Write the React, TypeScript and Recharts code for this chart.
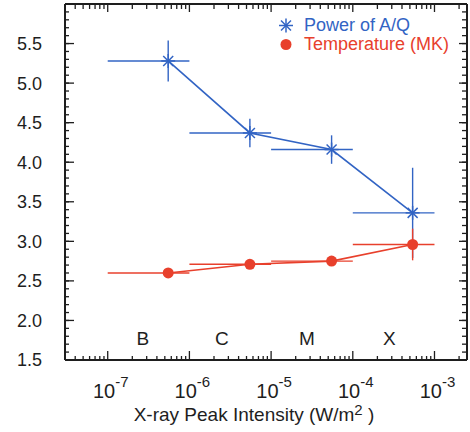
import React from 'react';
import { ScatterChart, Scatter, XAxis, YAxis, ErrorBar, ReferenceDot, Legend } from 'recharts';

const FONT = '"Liberation Sans", Arial, sans-serif';
const BLUE = '#3264c4';
const RED = '#e8402c';
const INK = '#1e1e1e';

// GOES class bins
const classNames = ['B', 'C', 'M', 'X'];
const classLow = [1e-7, 1e-6, 1e-5, 1e-4];
const classHigh = [1e-6, 1e-5, 1e-4, 1e-3];
const classLabelX = [2.7e-7, 2.5e-6, 2.75e-5, 2.8e-4];
const classLabelY = 1.78;

// series
const peakFlux = [5.5e-7, 5.5e-6, 5.5e-5, 5.4e-4];
const powerAQ = [5.28, 4.37, 4.16, 3.36];
const powerErr = [0.26, 0.18, 0.18, 0.57];
const tempMK = [2.6, 2.71, 2.75, 2.96];
const tempErr = [0.04, 0.04, 0.04, 0.2];

// axes
const xDomain = [3e-8, 2.5e-3];
const xMajor = [1e-7, 1e-6, 1e-5, 1e-4, 1e-3];
const xExp = ['-7', '-6', '-5', '-4', '-3'];
const yDomain = [1.5, 6.0];
const yMajor = [1.5, 2.0, 2.5, 3.0, 3.5, 4.0, 4.5, 5.0, 5.5, 6.0];
const yLabels = [1.5, 2.0, 2.5, 3.0, 3.5, 4.0, 4.5, 5.0, 5.5];

const xMinor: number[] = [];
[1e-8, 1e-7, 1e-6, 1e-5, 1e-4, 1e-3].forEach((d) => {
  for (let m = 2; m <= 9; m++) {
    const v = m * d;
    if (v >= xDomain[0] && v <= xDomain[1]) xMinor.push(v);
  }
});
const yMinor: number[] = [];
for (let i = 15; i <= 60; i++) yMinor.push(i / 10);

const powerData = peakFlux.map((x, i) => ({
  x,
  y: powerAQ[i],
  xErr: [x - classLow[i], classHigh[i] - x],
  yErr: powerErr[i],
}));
const tempData = peakFlux.map((x, i) => ({
  x,
  y: tempMK[i],
  xErr: [x - classLow[i], classHigh[i] - x],
  yErr: tempErr[i],
}));

const Asterisk = (props: any) => {
  const { cx, cy } = props;
  const s = 7;
  const d = 5;
  return (
    <g stroke={BLUE} strokeWidth={1.5}>
      <line x1={cx - s} y1={cy} x2={cx + s} y2={cy} />
      <line x1={cx} y1={cy - s} x2={cx} y2={cy + s} />
      <line x1={cx - d} y1={cy - d} x2={cx + d} y2={cy + d} />
      <line x1={cx - d} y1={cy + d} x2={cx + d} y2={cy - d} />
    </g>
  );
};

const Dot = (props: any) => <circle cx={props.cx} cy={props.cy} r={5.5} fill={RED} />;
const Nothing = () => <g />;

const XTick = (props: any) => {
  const { x, y, payload } = props;
  const i = xMajor.indexOf(payload.value);
  return (
    <text x={x + 3} y={y + 26} textAnchor="middle" fontFamily={FONT} fill={INK}>
      <tspan fontSize={20}>10</tspan>
      <tspan fontSize={15} dy={-11}>{xExp[i]}</tspan>
    </text>
  );
};

const XLabel = () => (
  <text x={254} y={421} textAnchor="middle" fontFamily={FONT} fill={INK} fontSize={19}>
    X-ray Peak Intensity (W/m
    <tspan fontSize={15} dy={-6}>2</tspan>
    <tspan dy={6}> )</tspan>
  </text>
);

const LegendBox = () => (
  <div style={{ fontFamily: FONT, fontSize: 18, lineHeight: '19px' }}>
    <div style={{ display: 'flex', alignItems: 'center', color: BLUE, height: 19 }}>
      <svg width={20} height={19}>
        <Asterisk cx={8} cy={9.5} />
      </svg>
      <span style={{ marginLeft: 6 }}>Power of A/Q</span>
    </div>
    <div style={{ display: 'flex', alignItems: 'center', color: RED, height: 19 }}>
      <svg width={20} height={19}>
        <circle cx={8} cy={9.5} r={5.5} fill={RED} />
      </svg>
      <span style={{ marginLeft: 6 }}>Temperature (MK)</span>
    </div>
  </div>
);

const axisLine = { stroke: INK, strokeWidth: 2 };
const tickLine = { stroke: INK, strokeWidth: 1.3 };

// tick-only axes: mirrored so the ticks point inward and take no room
const tickAxis = {
  type: 'number' as const,
  allowDataOverflow: true,
  mirror: true,
  tick: <Nothing />,
  tickLine,
  interval: 0 as const,
};

export default function App() {
  return (
    <div style={{ position: 'absolute', left: 0, top: 0, background: '#fff' }}>
      <ScatterChart width={470} height={432} margin={{ top: 4, right: 3, bottom: 0, left: 0 }}>
        <XAxis
          xAxisId="x"
          dataKey="x"
          type="number"
          scale="log"
          domain={xDomain}
          allowDataOverflow
          ticks={xMajor}
          interval={0}
          tickSize={0}
          tickMargin={12}
          height={72}
          axisLine={axisLine}
          tickLine={false}
          tick={<XTick />}
          label={<XLabel />}
        />
        <XAxis {...tickAxis} xAxisId="xTick" dataKey="x" scale="log" domain={xDomain} ticks={xMajor} tickSize={8} height={1} axisLine={false} />
        <XAxis {...tickAxis} xAxisId="xMinor" dataKey="x" scale="log" domain={xDomain} ticks={xMinor} tickSize={4} height={1} axisLine={false} />
        <XAxis {...tickAxis} xAxisId="xTop" orientation="top" dataKey="x" scale="log" domain={xDomain} ticks={xMajor} tickSize={8} height={1} axisLine={axisLine} />
        <XAxis {...tickAxis} xAxisId="xTopMinor" orientation="top" dataKey="x" scale="log" domain={xDomain} ticks={xMinor} tickSize={4} height={1} axisLine={false} />
        <YAxis
          yAxisId="y"
          dataKey="y"
          type="number"
          domain={yDomain}
          allowDataOverflow
          ticks={yLabels}
          interval={0}
          tickFormatter={(v: number) => v.toFixed(1)}
          tickSize={0}
          tickMargin={23}
          width={65}
          axisLine={axisLine}
          tickLine={false}
          tick={{ fontSize: 18, fill: INK, fontFamily: FONT }}
        />
        <YAxis {...tickAxis} yAxisId="yTick" dataKey="y" domain={yDomain} ticks={yMajor} tickSize={8} width={1} axisLine={false} />
        <YAxis {...tickAxis} yAxisId="yMinor" dataKey="y" domain={yDomain} ticks={yMinor} tickSize={4} width={1} axisLine={false} />
        <YAxis {...tickAxis} yAxisId="yRight" orientation="right" dataKey="y" domain={yDomain} ticks={yMajor} tickSize={8} width={1} axisLine={axisLine} />
        <YAxis {...tickAxis} yAxisId="yRightMinor" orientation="right" dataKey="y" domain={yDomain} ticks={yMinor} tickSize={4} width={1} axisLine={false} />
        <Legend
          verticalAlign="middle"
          align="center"
          layout="horizontal"
          content={<LegendBox />}
          wrapperStyle={{ top: 16, left: 278, width: 190 }}
        />
        {/* invisible series so the tick-only axes get drawn */}
        <Scatter xAxisId="xTick" yAxisId="yTick" data={powerData} shape={<Nothing />} legendType="none" isAnimationActive={false} />
        <Scatter xAxisId="xMinor" yAxisId="yMinor" data={powerData} shape={<Nothing />} legendType="none" isAnimationActive={false} />
        <Scatter xAxisId="xTop" yAxisId="yRight" data={powerData} shape={<Nothing />} legendType="none" isAnimationActive={false} />
        <Scatter xAxisId="xTopMinor" yAxisId="yRightMinor" data={powerData} shape={<Nothing />} legendType="none" isAnimationActive={false} />
        {classNames.map((c, i) => (
          <ReferenceDot
            key={c}
            xAxisId="x"
            yAxisId="y"
            x={classLabelX[i]}
            y={classLabelY}
            r={1}
            fill="none"
            stroke="none"
            ifOverflow="visible"
            label={{ value: c, position: 'center', fontSize: 19, fill: INK, fontFamily: FONT }}
          />
        ))}
        <Scatter
          xAxisId="x"
          yAxisId="y"
          data={powerData}
          line={{ stroke: BLUE, strokeWidth: 1.6 }}
          shape={<Asterisk />}
          isAnimationActive={false}
        >
          <ErrorBar dataKey="xErr" direction="x" width={0} stroke={BLUE} strokeWidth={1.4} isAnimationActive={false} />
          <ErrorBar dataKey="yErr" direction="y" width={0} stroke={BLUE} strokeWidth={1.4} isAnimationActive={false} />
        </Scatter>
        <Scatter
          xAxisId="x"
          yAxisId="y"
          data={tempData}
          line={{ stroke: RED, strokeWidth: 1.6 }}
          shape={<Dot />}
          isAnimationActive={false}
        >
          <ErrorBar dataKey="xErr" direction="x" width={0} stroke={RED} strokeWidth={1.4} isAnimationActive={false} />
          <ErrorBar dataKey="yErr" direction="y" width={0} stroke={RED} strokeWidth={1.4} isAnimationActive={false} />
        </Scatter>
      </ScatterChart>
    </div>
  );
}
